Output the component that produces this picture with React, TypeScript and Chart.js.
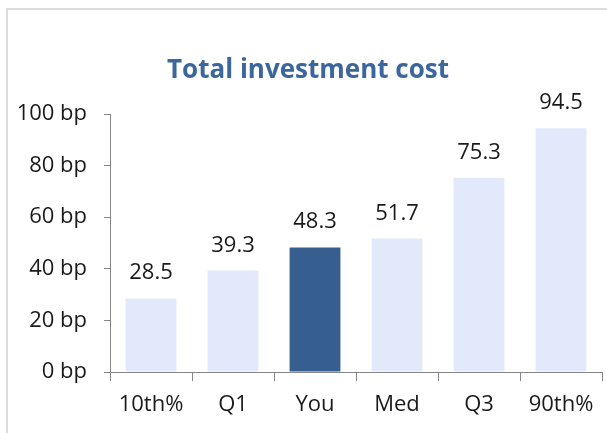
import React, { useEffect, useRef } from "react";
import { Chart, registerables } from "chart.js";

Chart.register(...registerables);

const categories = ["10th%", "Q1", "You", "Med", "Q3", "90th%"];
const values = [28.5, 39.3, 48.3, 51.7, 75.3, 94.5];
const highlight = ["", "", "You", "", "", ""];
const yTicks = [0, 20, 40, 60, 80, 100];
const yUnit = " bp";
const titleText = "Total investment cost";

const LIGHT = "#e2e9fb";
const DARK = "#365f8f";
const AXIS = "#868686";
const TEXT = "#1a1a1a";
const FONT = "'Open Sans', 'Liberation Sans', sans-serif";

const titlePlugin = {
  id: "customTitle",
  afterDraw(chart: any) {
    const ctx = chart.ctx;
    ctx.save();
    ctx.font = `bold 26px ${FONT}`;
    ctx.fillStyle = "#3c679c";
    ctx.textAlign = "center";
    ctx.textBaseline = "alphabetic";
    ctx.fillText(titleText, 308, 78);
    ctx.restore();
  },
};

const valueLabelPlugin = {
  id: "valueLabels",
  afterDatasetsDraw(chart: any) {
    const ctx = chart.ctx;
    const meta = chart.getDatasetMeta(0);
    ctx.save();
    ctx.font = `22px ${FONT}`;
    ctx.fillStyle = TEXT;
    ctx.textAlign = "center";
    ctx.textBaseline = "alphabetic";
    meta.data.forEach((bar: any, i: number) => {
      ctx.fillText(values[i].toFixed(1), bar.x, bar.y - 19);
    });
    ctx.restore();
  },
};

export default function App() {
  const ref = useRef<HTMLCanvasElement | null>(null);

  useEffect(() => {
    if (!ref.current) return;
    const chart = new Chart(ref.current, {
      type: "bar",
      data: {
        labels: categories,
        datasets: [
          {
            data: values,
            backgroundColor: categories.map((c, i) => (highlight[i] ? DARK : LIGHT)),
            borderWidth: 0,
            categoryPercentage: 1,
            barPercentage: 0.62,
          },
        ],
      },
      options: {
        responsive: false,
        animation: false,
        layout: { padding: { top: 114, right: 5, left: 0, bottom: 0 } },
        plugins: {
          legend: { display: false },
          title: { display: false },
          tooltip: { enabled: false },
        },
        scales: {
          x: {
            grid: {
              display: true,
              drawOnChartArea: false,
              drawTicks: true,
              tickLength: 9,
              color: AXIS,
              offset: true,
            },
            border: { display: true, color: AXIS, width: 1 },
            ticks: {
              color: TEXT,
              font: { family: FONT, size: 22 },
              padding: 11,
              maxRotation: 0,
              autoSkip: false,
            },
            afterFit(scale: any) {
              scale.height = 61;
            },
          },
          y: {
            min: 0,
            max: 100,
            grid: {
              display: true,
              drawOnChartArea: false,
              drawTicks: true,
              tickLength: 6,
              color: AXIS,
            },
            border: { display: true, color: AXIS, width: 1 },
            afterBuildTicks(scale: any) {
              scale.ticks = yTicks.map((v) => ({ value: v }));
            },
            ticks: {
              color: TEXT,
              font: { family: FONT, size: 22 },
              padding: 17,
              callback: (v: any) => `${v}${yUnit}`,
            },
            afterFit(scale: any) {
              scale.width = 110;
            },
          },
        },
      },
      plugins: [titlePlugin, valueLabelPlugin],
    });
    return () => chart.destroy();
  }, []);

  return (
    <div
      style={{
        position: "absolute",
        left: 0,
        top: 0,
        width: 607,
        height: 433,
        overflow: "hidden",
        background: "#ffffff",
      }}
    >
      <div
        style={{
          position: "absolute",
          left: 6,
          top: 8,
          width: 700,
          height: 500,
          borderLeft: "2px solid #dcdcdc",
          borderTop: "2px solid #dcdcdc",
        }}
      />
      <canvas
        ref={ref}
        width={607}
        height={433}
        style={{ position: "absolute", left: 0, top: 0, width: 607, height: 433 }}
      />
    </div>
  );
}
